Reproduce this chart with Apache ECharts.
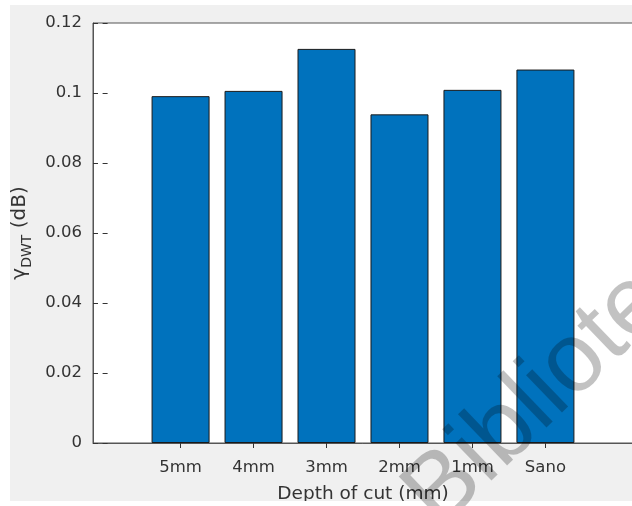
<!DOCTYPE html>
<html>
<head>
<meta charset="utf-8">
<script src="https://cdn.jsdelivr.net/npm/echarts@6/dist/echarts.min.js"></script>
<style>
html,body{margin:0;padding:0;background:#fff;}
#main{width:632px;height:506px;}
</style>
</head>
<body>
<div id="main"></div>
<script>
var categories = ['5mm', '4mm', '3mm', '2mm', '1mm', 'Sano'];
var positions = [1, 2, 3, 4, 5, 6];
var gammaDWT = [0.0991, 0.1006, 0.1126, 0.0939, 0.1009, 0.1067];
var yTicks = [0, 0.02, 0.04, 0.06, 0.08, 0.1, 0.12];

var FONT = 'DejaVu Sans';
var lineColor = '#555555';
var textColor = '#333333';

var barData = positions.map(function (p, i) { return [p, gammaDWT[i]]; });

var myChart = echarts.init(document.getElementById('main'));

var option = {
    backgroundColor: '#f0f0f0',
    animation: false,
    grid: {
        left: 93,
        right: -1,
        top: 23,
        bottom: 63,
        outerBoundsMode: 'none',
        show: true,
        backgroundColor: '#ffffff',
        borderColor: lineColor,
        borderWidth: 1
    },
    xAxis: [
        {
            type: 'value',
            position: 'bottom',
            min: -0.2,
            max: 7.2,
            axisLine: { show: true, onZero: false, lineStyle: { color: lineColor } },
            axisTick: {
                show: true, inside: true, length: 5, customValues: positions,
                lineStyle: { color: '#333' }
            },
            axisLabel: {
                customValues: positions,
                margin: 16,
                fontFamily: FONT,
                fontSize: 16.5,
                color: textColor,
                formatter: function (v) { return categories[positions.indexOf(v)]; }
            },
            splitLine: { show: false },
            name: 'Depth of cut (mm)',
            nameLocation: 'middle',
            nameGap: 42,
            nameTextStyle: { fontFamily: FONT, fontSize: 18.5, color: textColor, verticalAlign: 'top' }
        },
        {
            type: 'value',
            position: 'top',
            min: -0.2,
            max: 7.2,
            axisLine: { show: false },
            axisTick: {
                show: true, inside: true, length: 5, customValues: positions,
                lineStyle: { color: '#333' }
            },
            axisLabel: { show: false },
            splitLine: { show: false }
        }
    ],
    yAxis: [
        {
            type: 'value',
            position: 'left',
            min: yTicks[0],
            max: yTicks[yTicks.length - 1],
            interval: 0.02,
            axisLine: { show: true, onZero: false, lineStyle: { color: lineColor } },
            axisTick: { show: true, inside: true, length: 5, lineStyle: { color: '#333' } },
            axisLabel: { margin: 11, fontFamily: FONT, fontSize: 16.5, color: textColor },
            splitLine: { show: false },
            name: '{g|γ}{s|DWT}{n| (dB)}',
            nameLocation: 'middle',
            nameRotate: 90,
            nameGap: 51,
            nameTextStyle: {
                fontFamily: FONT,
                color: textColor,
                rich: {
                    g: { fontFamily: FONT, fontSize: 20, color: textColor, verticalAlign: 'bottom', padding: [0, 0, 5, 0] },
                    s: { fontFamily: FONT, fontSize: 14, color: textColor, verticalAlign: 'bottom' },
                    n: { fontFamily: FONT, fontSize: 20, color: textColor, verticalAlign: 'bottom', padding: [0, 0, 5, 0] }
                }
            }
        },
        {
            type: 'value',
            position: 'right',
            min: yTicks[0],
            max: yTicks[yTicks.length - 1],
            interval: 0.02,
            axisLine: { show: false },
            axisTick: { show: true, inside: true, length: 5, lineStyle: { color: '#333' } },
            axisLabel: { show: false },
            splitLine: { show: false }
        }
    ],
    series: [
        {
            type: 'bar',
            xAxisIndex: 0,
            yAxisIndex: 0,
            barWidth: 58,
            itemStyle: { color: '#0072bd', borderColor: '#1a1a1a', borderWidth: 1 },
            data: barData
        }
    ],
    graphic: [
        { type: 'rect', z: 50, shape: { x: 0, y: 0, width: 632, height: 5 }, style: { fill: '#ffffff' } },
        { type: 'rect', z: 50, shape: { x: 0, y: 0, width: 10, height: 506 }, style: { fill: '#ffffff' } },
        { type: 'rect', z: 50, shape: { x: 0, y: 501, width: 632, height: 5 }, style: { fill: '#ffffff' } },
        {
            type: 'text',
            z: 100,
            x: 421,
            y: 511,
            rotation: 44 * Math.PI / 180,
            style: {
                text: 'Biblioteca',
                font: '98px "Liberation Sans"',
                fill: 'rgba(0,0,0,0.24)',
                textAlign: 'left',
                textVerticalAlign: 'middle'
            }
        }
    ]
};

myChart.setOption(option);
</script>
</body>
</html>
